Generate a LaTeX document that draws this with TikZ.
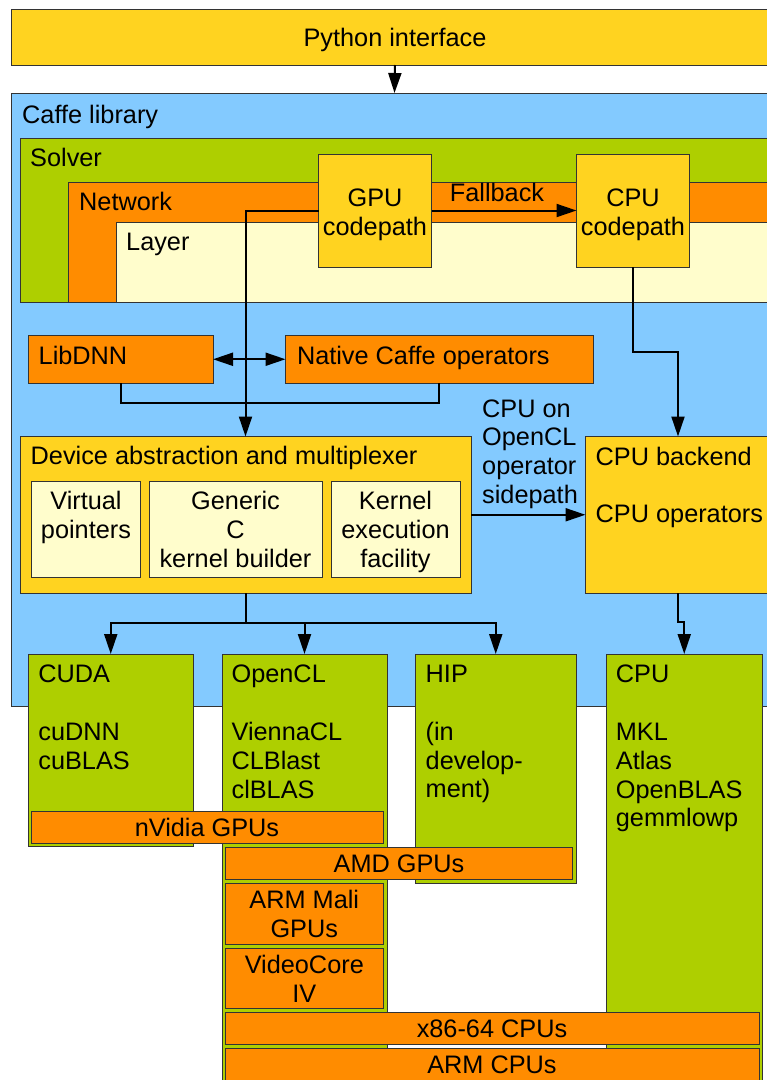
\documentclass[tikz,border=0pt]{standalone}
\usepackage{fontspec}
\setmainfont{Liberation Sans}
\usetikzlibrary{arrows.meta}
\definecolor{cyel}{HTML}{FFD320}
\definecolor{cblue}{HTML}{83CAFF}
\definecolor{cgreen}{HTML}{AECF00}
\definecolor{corange}{HTML}{FF8C00}
\definecolor{clight}{HTML}{FFFDCC}
\definecolor{bordc}{HTML}{333333}
\newcommand{\fnt}{\fontsize{25.3pt}{28.8pt}\selectfont}
\tikzset{
  box/.style={draw=bordc, line width=1pt, inner sep=0pt, outer sep=0pt, anchor=north west},
  lbl/.style={anchor=base west, inner sep=0pt, font=\fnt},
  clbl/.style={anchor=base, inner sep=0pt, font=\fnt},
  mtxt/.style={anchor=north west, inner sep=0pt, font=\fnt, align=left, execute at begin node=\strut},
  ctxt/.style={anchor=north, inner sep=0pt, font=\fnt, align=center, execute at begin node=\strut},
  conn/.style={line width=2pt, draw=black},
  arr/.style={conn, -{Triangle[length=20pt,width=13pt]}},
  darr/.style={conn, {Triangle[length=20pt,width=13pt]}-{Triangle[length=20pt,width=13pt]}},
}
\begin{document}
\begin{tikzpicture}[x=1pt,y=-1pt]
\useasboundingbox (0,0) rectangle (767,1080);
\fill[white] (0,0) rectangle (767,1080);
\clip (0,0) rectangle (767,1080);
% top
\node[box, fill=cyel, minimum width=767, minimum height=55.5] (python) at (11.5,9.5) {};
\node[clbl] (pythonT) at (395,46.5) {Python interface};
% caffe library
\node[box, fill=cblue, minimum width=767, minimum height=613] (caffe) at (11,93) {};
\node[lbl] (caffeT) at (22,123) {Caffe library};
\node[box, fill=cgreen, minimum width=758, minimum height=164.7] (solver) at (20,138) {};
\node[lbl] (solverT) at (30,166) {Solver};
\node[box, fill=corange, minimum width=709.5, minimum height=120.7] (network) at (68.5,182) {};
\node[lbl] (networkT) at (79,210.5) {Network};
\node[box, fill=clight, minimum width=661.5, minimum height=80.7] (layer) at (116.5,222) {};
\node[lbl] (layerT) at (126,250) {Layer};
\node[box, fill=cyel, minimum width=113, minimum height=113] (gpu) at (318.5,154) {};
\node[ctxt] (gpuT) at (375,188.5) {GPU\\codepath};
\node[box, fill=cyel, minimum width=113, minimum height=113] (cpucp) at (576.5,154) {};
\node[ctxt] (cpucpT) at (633,188.5) {CPU\\codepath};
\node[clbl] (fallbackT) at (497,201.5) {Fallback};
% operators
\node[box, fill=corange, minimum width=185, minimum height=47.5] (libdnn) at (28,335.5) {};
\node[lbl] (libdnnT) at (38.5,364) {LibDNN};
\node[box, fill=corange, minimum width=307.5, minimum height=47.5] (native) at (285.5,335.5) {};
\node[lbl] (nativeT) at (296.8,364) {Native Caffe operators};
% device abstraction
\node[box, fill=cyel, minimum width=451, minimum height=156.5] (dev) at (20,436.5) {};
\node[lbl] (devT) at (30.5,464) {Device abstraction and multiplexer};
\node[box, fill=clight, minimum width=109, minimum height=96] (vp) at (31.5,481) {};
\node[ctxt] (vpT) at (86,491.3) {Virtual\\pointers};
\node[box, fill=clight, minimum width=173, minimum height=96] (gen) at (149,481) {};
\node[ctxt] (genT) at (235.5,491.3) {Generic\\C\\kernel builder};
\node[box, fill=clight, minimum width=129, minimum height=96] (kef) at (331,481) {};
\node[ctxt] (kefT) at (395.5,491.3) {Kernel\\execution\\facility};
% cpu backend
\node[box, fill=cyel, minimum width=185, minimum height=156.5] (cback) at (585.5,436.5) {};
\node[mtxt] (cbackT) at (595.5,446.8) {CPU backend\\\mbox{}\\CPU operators};
\node[mtxt] (sideT) at (482,399.3) {CPU on\\OpenCL\\operator\\sidepath};
% backends
\node[box, fill=cgreen, minimum width=165.5, minimum height=192.5] (cuda) at (28,654) {};
\node[mtxt] (cudaT) at (38.2,665) {CUDA\\\mbox{}\\cuDNN\\cuBLAS};
\node[box, fill=cgreen, minimum width=165, minimum height=436] (opencl) at (222,654) {};
\node[mtxt] (openclT) at (231.4,665) {OpenCL\\\mbox{}\\ViennaCL\\CLBlast\\clBLAS};
\node[box, fill=cgreen, minimum width=161.5, minimum height=229] (hip) at (415,654) {};
\node[mtxt] (hipT) at (425.5,665) {HIP\\\mbox{}\\(in\\develop-\\ment)};
\node[box, fill=cgreen, minimum width=156.5, minimum height=436] (cpu) at (606,654) {};
\node[mtxt] (cpuT) at (615.7,665) {CPU\\\mbox{}\\MKL\\Atlas\\OpenBLAS\\gemmlowp};
% hardware bars
\node[box, fill=corange, minimum width=351.5, minimum height=32] (nvidia) at (31.5,811) {};
\node[clbl] (nvidiaT) at (207,836) {nVidia GPUs};
\node[box, fill=corange, minimum width=347, minimum height=32] (amd) at (225.5,847) {};
\node[clbl] (amdT) at (399,872) {AMD GPUs};
\node[box, fill=corange, minimum width=157.5, minimum height=61] (mali) at (225.5,883) {};
\node[ctxt] (maliT) at (304.3,890.3) {ARM Mali\\GPUs};
\node[box, fill=corange, minimum width=157.5, minimum height=60] (vc) at (225.5,948) {};
\node[ctxt] (vcT) at (304.3,955.3) {VideoCore\\IV};
\node[box, fill=corange, minimum width=533.5, minimum height=31.5] (x86) at (225.5,1012.5) {};
\node[clbl] (x86T) at (492,1037.5) {x86-64 CPUs};
\node[box, fill=corange, minimum width=533.5, minimum height=33] (armcpu) at (225.5,1048.5) {};
\node[clbl] (armcpuT) at (492,1073.5) {ARM CPUs};
% connectors
\draw[arr] (python.south) -- (caffe.north);
\draw[arr] (gpu.east) -- (cpucp.west);
\draw[arr] (gpu.west) -| (dev.north);
\draw[arr] (cpucp.south) -- ++(0,85) -| (cback.north);
\draw[darr] (libdnn.east) -- (native.west);
\draw[conn] (libdnn.south) -- ++(0,20) -| (native.south);
\draw[arr] (dev.east) -- (cback.west);
\draw[conn] (dev.south) -- ++(0,30) coordinate (split);
\draw[arr] (split) -| (cuda.north);
\draw[arr] (split) -| (opencl.north);
\draw[arr] (split) -| (hip.north);
\draw[arr] (cback.south) -- ++(0,29) -| (cpu.north);
\end{tikzpicture}
\end{document}
